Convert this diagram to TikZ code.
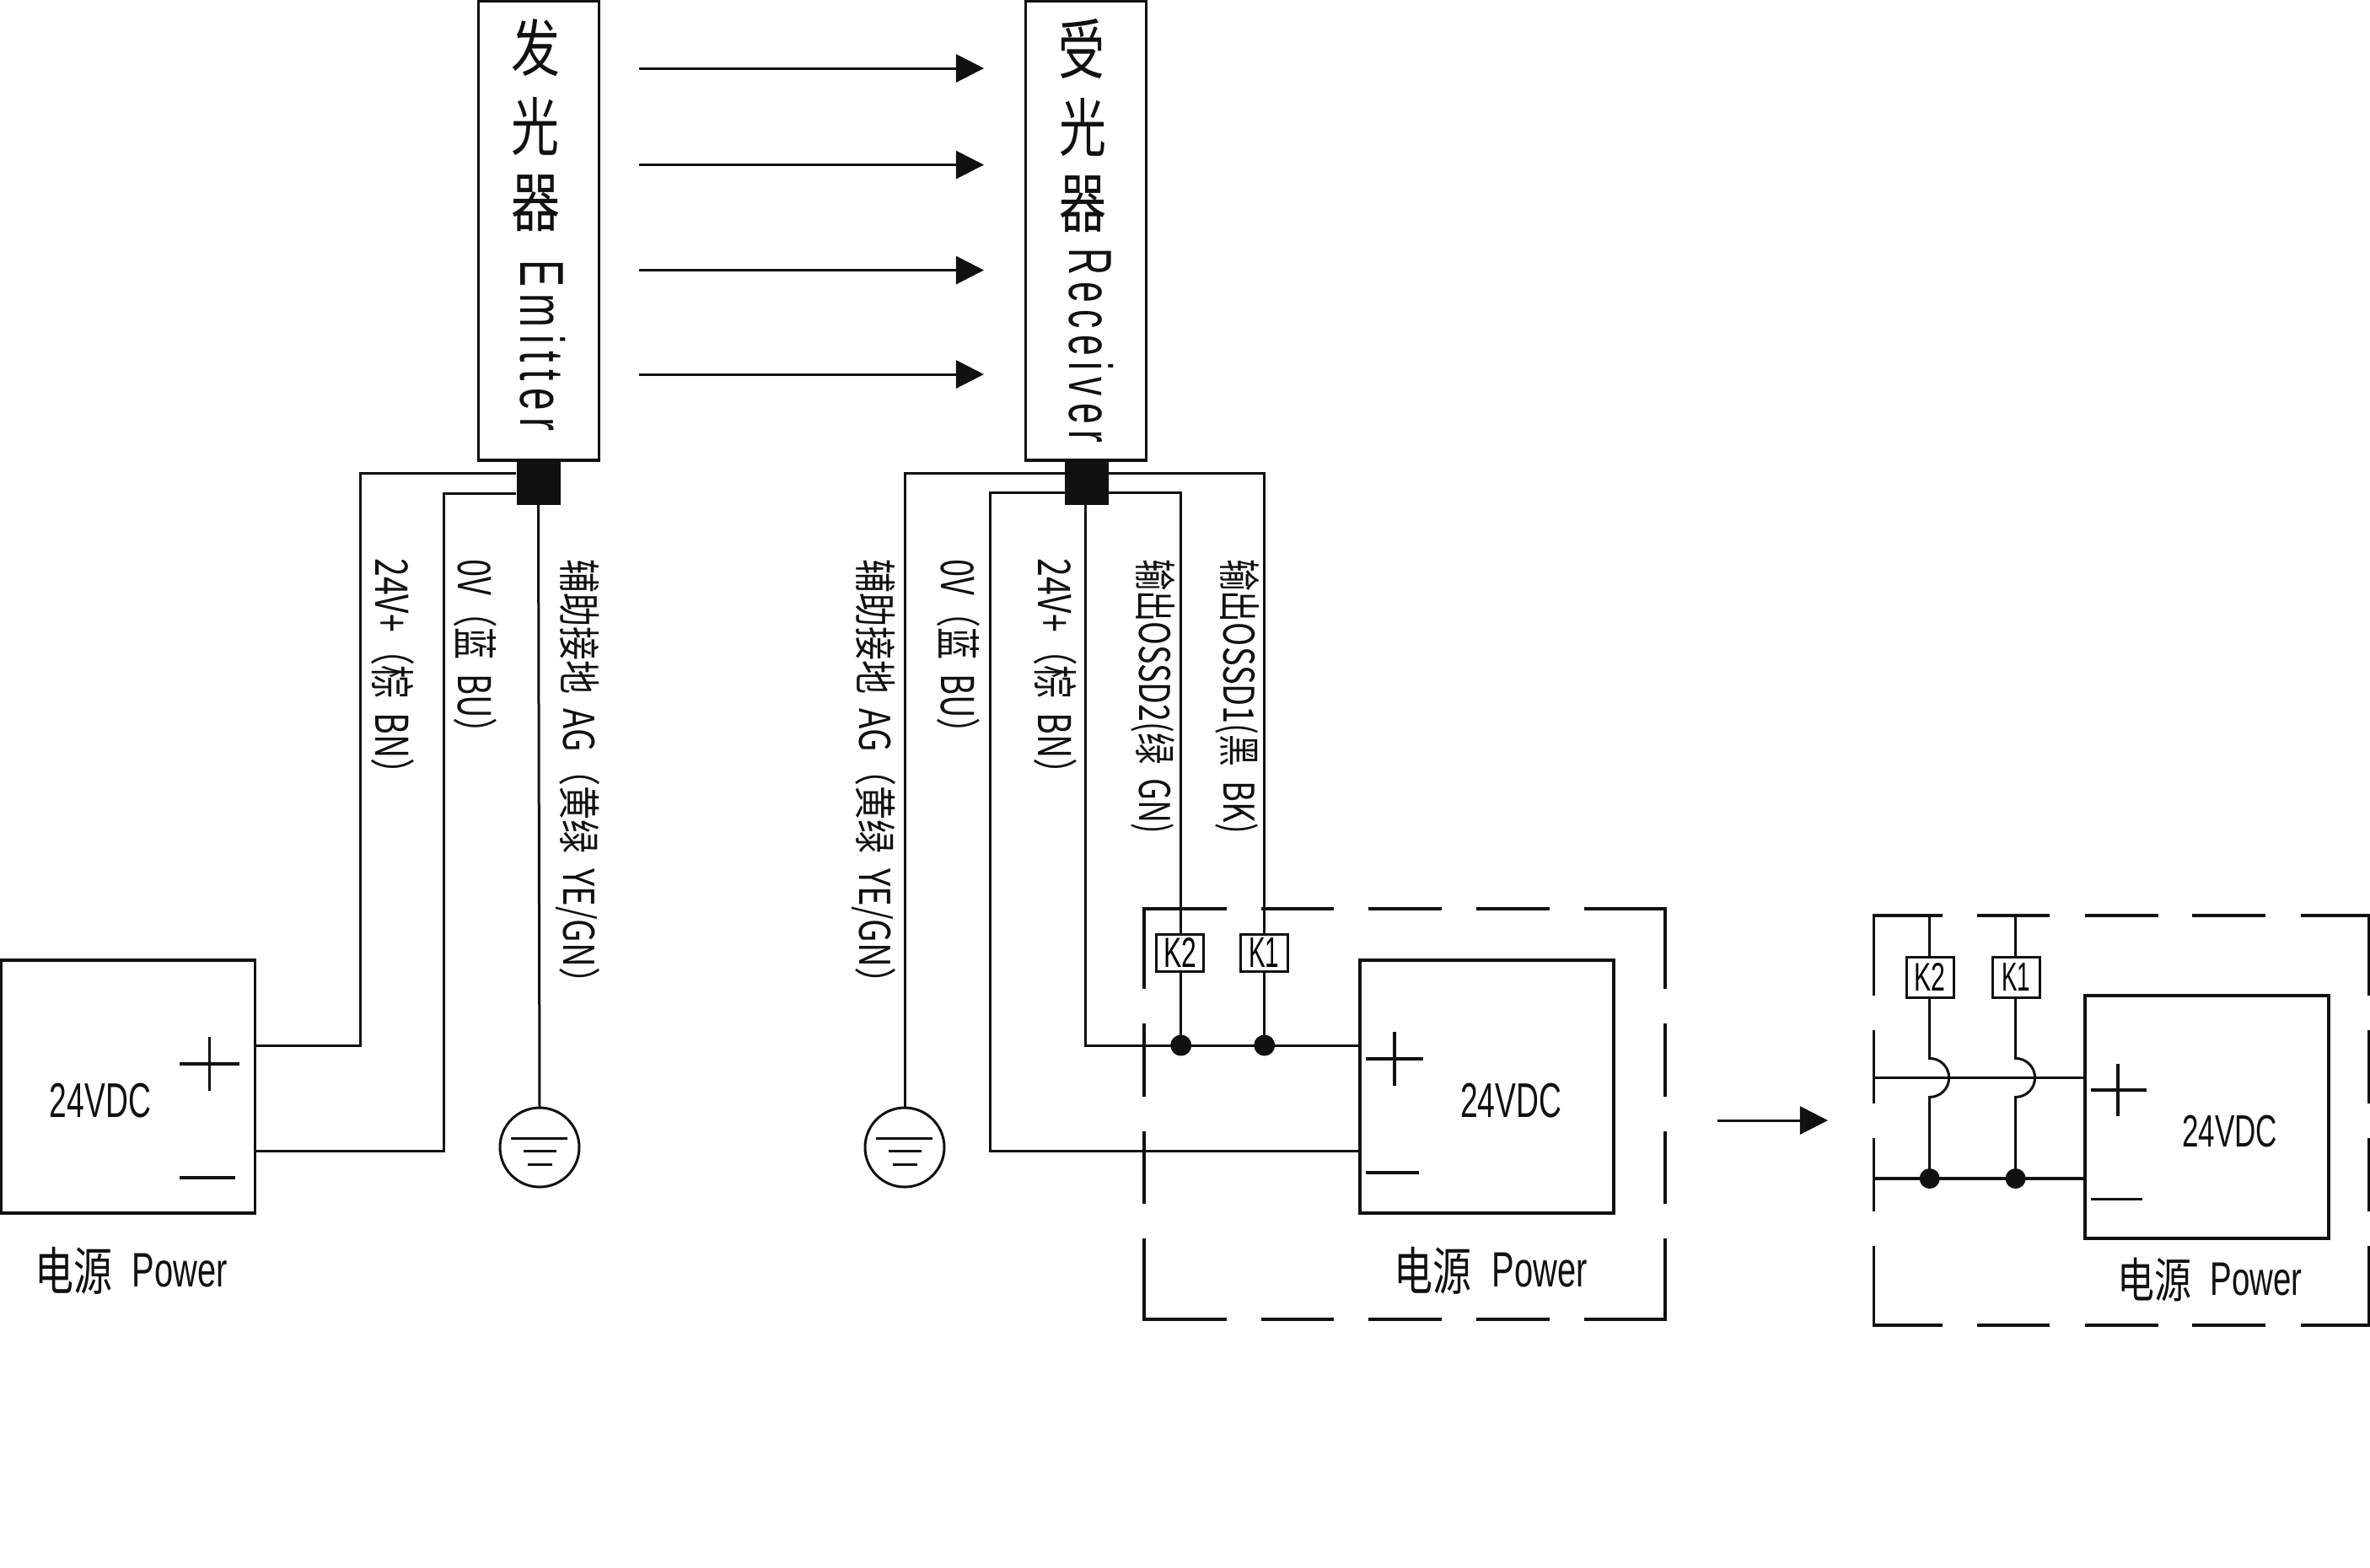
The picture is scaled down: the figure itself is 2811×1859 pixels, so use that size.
\documentclass[tikz,border=0pt]{standalone}
\usepackage{fontspec}
\usepackage{graphicx}
\usetikzlibrary{arrows.meta}
\setmainfont{Noto Sans CJK SC}
\newfontfamily\lat{Liberation Sans}
\newfontfamily\latsp[LetterSpace=18]{Liberation Sans}
\newdimen\pxu \pxu=0.01cm
\newcommand{\fitbox}[3]{\resizebox*{#1\pxu}{#2\pxu}{#3}}
\newcommand{\clp}{\hspace*{-0.5em}}
\newcommand{\gp}{\hspace{0.45em}}
\definecolor{ink}{HTML}{111111}
\tikzset{
  wire/.style={draw=ink,line width=3\pxu,line cap=butt,line join=miter},
  thickwire/.style={wire,line width=3.6\pxu},
  beam/.style={wire,-{Triangle[length=9.39pt,width=9.39pt]}},
  device/.style={draw=ink,line width=3.4\pxu,fill=white,inner sep=0pt,outer sep=0pt},
  relay/.style={draw=ink,line width=3\pxu,fill=white,inner sep=0pt,outer sep=0pt,minimum width=56\pxu,minimum height=44\pxu},
  block/.style={fill=ink,inner sep=0pt,outer sep=0pt,minimum width=52\pxu,minimum height=53\pxu},
  gndcircle/.style={circle,draw=ink,line width=3\pxu,inner sep=0pt,outer sep=0pt,minimum size=94\pxu},
  dot/.style={circle,fill=ink,inner sep=0pt,outer sep=0pt,minimum size=25\pxu},
  txt/.style={inner sep=0pt,outer sep=0pt,text=ink},
  rtxt/.style={txt,rotate=-90},
  dashline/.style={wire,line width=3.2\pxu}
}
\begin{document}
\begin{tikzpicture}[x=0.01cm,y=-0.01cm]
\useasboundingbox[fill=white] (0,0) rectangle (2811,1859);

% sensor housings
\node[device,minimum width=143\pxu,minimum height=545\pxu] (emitter) at (639,273.5) {};
\node[device,minimum width=143\pxu,minimum height=545\pxu] (receiver) at (1288,273.5) {};
\node[txt] (e1) at (635,56.5) {\fitbox{58}{68}{发}};
\node[txt] (e2) at (634.5,149.5) {\fitbox{57}{69}{光}};
\node[txt] (e3) at (635,241.5) {\fitbox{58}{67}{器}};
\node[rtxt] (e4) at (644,410) {\fitbox{203}{54}{\latsp Emitter}};
\node[txt] (r1) at (1282.5,58) {\fitbox{55}{71}{受}};
\node[txt] (r2) at (1284,150.5) {\fitbox{56}{69}{光}};
\node[txt] (r3) at (1284,242.5) {\fitbox{56}{67}{器}};
\node[rtxt] (r4) at (1294,410) {\fitbox{231}{53}{\latsp Receiver}};

% beams
\foreach \n/\yy in {a/81,b/195.5,c/320.5,d/444}{
  \coordinate (bs\n) at (758,\yy);
  \coordinate (be\n) at (1167,\yy);
  \draw[beam] (bs\n) -- (be\n);
}

% connector blocks
\node[block] (eblock) at (638.5,572.5) {};
\node[block] (rblock) at (1289,572.5) {};

% supplies
\node[device,minimum width=301\pxu,minimum height=300\pxu] (p1) at (152,1289) {};
\node[device,minimum width=301\pxu,minimum height=300\pxu] (p2) at (1763.5,1289) {};
\node[device,minimum width=289\pxu,minimum height=288\pxu] (p3) at (2617.5,1325) {};

% grounds
\node[gndcircle] (g1) at (640,1361) {};
\node[gndcircle] (g2) at (1073,1361) {};
\foreach \g in {g1,g2}{
  \draw[wire] ([shift={(-34,-11)}]\g.center) -- ([shift={(33,-11)}]\g.center);
  \draw[wire] ([shift={(-19,4)}]\g.center) -- ([shift={(20,4)}]\g.center);
  \draw[wire] ([shift={(-14,20)}]\g.center) -- ([shift={(15,20)}]\g.center);
}

% emitter wires
\coordinate (ea) at (612,561.5);
\coordinate (eac) at (427,1240);
\coordinate (eae) at (302.5,1240);
\draw[wire] (ea) -| (eac) -- (eae);
\coordinate (eb) at (612,585);
\coordinate (ebc) at (526.5,1365);
\coordinate (ebe) at (302.5,1365);
\draw[wire] (eb) -| (ebc) -- (ebe);
\draw[wire] (eblock.south) -- (g1.north);

% receiver wires
\coordinate (ra) at (1263,561);
\draw[wire] (ra) -| (g2.north);
\coordinate (rb) at (1263,584.5);
\coordinate (rbc) at (1174,1365);
\coordinate (rbe) at (1613,1365);
\draw[wire] (rb) -| (rbc) -- (rbe);
\coordinate (rc) at (1287,598);
\coordinate (rcc) at (1287,1240);
\coordinate (rce) at (1613,1240);
\draw[wire] (rc) -- (rcc) -- (rce);
\coordinate (rd) at (1315,584.5);
\coordinate (rj2) at (1400.7,1240);
\draw[wire] (rd) -| (rj2);
\coordinate (re) at (1315,561);
\coordinate (rj1) at (1499.7,1240);
\draw[wire] (re) -| (rj1);
\node[dot] (d2) at (rj2) {};
\node[dot] (d1) at (rj1) {};

% panel 2 dashed frame
\draw[dashline] (1357,1173) -- (1357,1078) -- (1455,1078);
\draw[dashline] (1496,1078) -- (1582,1078);
\draw[dashline] (1623,1078) -- (1710,1078);
\draw[dashline] (1751,1078) -- (1838,1078);
\draw[dashline] (1879,1078) -- (1975,1078) -- (1975,1173);
\draw[dashline] (1357,1469) -- (1357,1565) -- (1455,1565);
\draw[dashline] (1496,1565) -- (1582,1565);
\draw[dashline] (1623,1565) -- (1710,1565);
\draw[dashline] (1751,1565) -- (1838,1565);
\draw[dashline] (1879,1565) -- (1975,1565) -- (1975,1469);
\foreach \xx in {1357,1975}{
  \draw[dashline] (\xx,1214) -- (\xx,1301);
  \draw[dashline] (\xx,1342) -- (\xx,1428);
}
\node[relay] (k2) at (1399.5,1130) {\fitbox{39}{35}{\lat K2}};
\node[relay] (k1) at (1499,1130) {\fitbox{36}{35}{\lat K1}};

% panel 3 dashed frame
\draw[dashline] (2222.5,1180.5) -- (2222.5,1086) -- (2304,1086);
\draw[dashline] (2345,1086) -- (2431,1086);
\draw[dashline] (2473,1086) -- (2560,1086);
\draw[dashline] (2600,1086) -- (2687,1086);
\draw[dashline] (2729,1086) -- (2809.5,1086) -- (2809.5,1180.5);
\draw[dashline] (2222.5,1478) -- (2222.5,1572) -- (2304,1572);
\draw[dashline] (2345,1572) -- (2431,1572);
\draw[dashline] (2473,1572) -- (2560,1572);
\draw[dashline] (2600,1572) -- (2687,1572);
\draw[dashline] (2729,1572) -- (2809.5,1572) -- (2809.5,1478);
\foreach \xx in {2222.5,2809.5}{
  \draw[dashline] (\xx,1222) -- (\xx,1309);
  \draw[dashline] (\xx,1350) -- (\xx,1437);
}

% panel 3 wiring
\coordinate (ul) at (2222.5,1278.4);
\coordinate (ur) at (2473.4,1278.4);
\coordinate (ll) at (2222.5,1398);
\coordinate (lr) at (2473.4,1398);
\draw[thickwire] (ul) -- (ur);
\draw[thickwire] (ll) -- (lr);
\foreach \xx/\nm in {2288.7/q2,2390.6/q1}{
  \coordinate (\nm t) at (\xx,1086);
  \coordinate (\nm a) at (\xx,1255.4);
  \coordinate (\nm b) at (\xx,1301.4);
  \coordinate (\nm d) at (\xx,1398);
  \draw[wire] (\nm t) -- (\nm a) arc[start angle=90,end angle=-90,radius=23\pxu] -- (\nm d);
  \node[dot,minimum size=24\pxu] (\nm dot) at (\nm d) {};
}
\node[relay,minimum height=48\pxu] (k4) at (2289,1159) {\fitbox{37}{33}{\lat K2}};
\node[relay,minimum height=48\pxu] (k3) at (2391,1159) {\fitbox{34}{33}{\lat K1}};

% signs supply 1
\draw[thickwire] (248.5,1230) -- (248.5,1294);
\draw[thickwire] (213,1262) -- (284,1262);
\draw[thickwire] (213,1397) -- (279,1397);
% signs supply 2
\draw[thickwire] (1654,1224) -- (1654,1288);
\draw[thickwire] (1620,1256) -- (1688,1256);
\draw[thickwire] (1620,1391) -- (1683,1391);
% signs supply 3
\draw[thickwire] (2512,1262) -- (2512,1324);
\draw[thickwire] (2480,1293) -- (2546,1293);
\draw[thickwire] (2480,1422.6) -- (2541,1422.6);

% transition arrow
\coordinate (ts) at (2037,1329);
\coordinate (te) at (2168,1329);
\draw[beam] (ts) -- (te);

% supply texts
\node[txt] (v1) at (119,1306) {\fitbox{120}{41}{\lat 24VDC}};
\node[txt] (v2) at (1792,1306) {\fitbox{120}{41}{\lat 24VDC}};
\node[txt] (v3) at (2644.5,1342) {\fitbox{113}{38}{\lat 24VDC}};
\node[txt] (c1) at (87,1507) {\fitbox{92}{56}{电源}};
\node[txt] (w1) at (213,1507.5) {\fitbox{113}{40}{\lat Power}};
\node[txt] (c2) at (1699,1507) {\fitbox{92}{56}{电源}};
\node[txt] (w2) at (1826,1507) {\fitbox{113}{41}{\lat Power}};
\node[txt] (c3) at (2555,1518) {\fitbox{88}{52}{电源}};
\node[txt] (w3) at (2676,1518) {\fitbox{109}{39}{\lat Power}};

% wire labels, emitter
\node[rtxt] (l1) at (466,791) {\fitbox{257}{51}{24V+（棕\gp BN）\clp}};
\node[rtxt] (l2) at (564,767) {\fitbox{208}{51}{0V（蓝\gp BU）\clp}};
\node[rtxt] (l3) at (686,915) {\fitbox{504}{52}{辅助接地\gp AG（黄绿\gp YE/GN）\clp}};
% wire labels, receiver
\node[rtxt] (l4) at (1036.5,915) {\fitbox{504}{52}{辅助接地\gp AG（黄绿\gp YE/GN）\clp}};
\node[rtxt] (l5) at (1137,767) {\fitbox{208}{51}{0V（蓝\gp BU）\clp}};
\node[rtxt] (l6) at (1252,791) {\fitbox{257}{51}{24V+（棕\gp BN）\clp}};
\node[rtxt] (l7) at (1367.5,826) {\fitbox{326}{52}{输出OSSD2(绿\gp GN)}};
\node[rtxt] (l8) at (1467.5,826) {\fitbox{326}{52}{输出OSSD1(黑\gp BK)}};
\end{tikzpicture}
\end{document}
